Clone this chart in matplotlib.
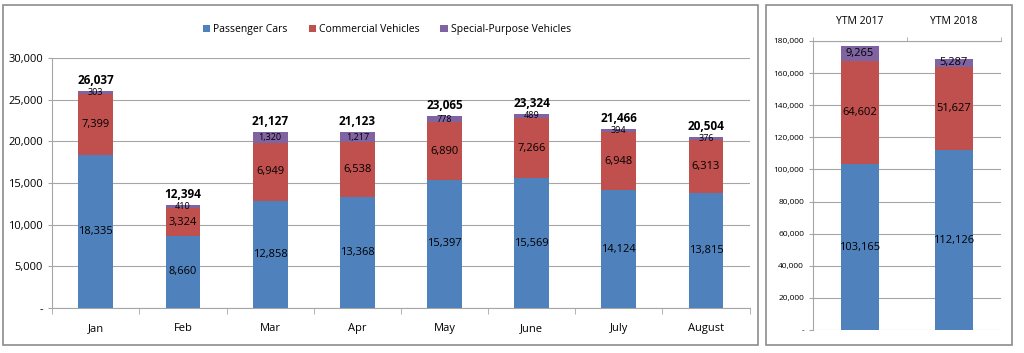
import matplotlib.pyplot as plt
from matplotlib.patches import Rectangle
from matplotlib.ticker import FuncFormatter
import numpy as np

months = ["Jan", "Feb", "Mar", "Apr", "May", "June", "July", "August"]
passenger = [18335, 8660, 12858, 13368, 15397, 15569, 14124, 13815]
commercial = [7399, 3324, 6949, 6538, 6890, 7266, 6948, 6313]
special = [303, 410, 1320, 1217, 778, 489, 394, 376]
totals = [26037, 12394, 21127, 21123, 23065, 23324, 21466, 20504]

ytm_labels = ["YTM 2017", "YTM 2018"]
ytm_passenger = [103165, 112126]
ytm_commercial = [64602, 51627]
ytm_special = [9265, 5287]

series_names = ["Passenger Cars", "Commercial Vehicles", "Special-Purpose Vehicles"]
colors = ["#4F81BD", "#C0504D", "#8064A2"]
grid_color = "#A6A6A6"

plt.rcParams['font.family'] = ['Open Sans', 'DejaVu Sans']


def fmt(v, pos=None):
    if v == 0:
        return "-"
    return f"{int(v):,}"


def draw_stack(ax, x, layers, width, fs, small_fs):
    bottom = np.zeros(len(x))
    for i, vals in enumerate(layers):
        vals = np.array(vals, dtype=float)
        ax.bar(x, vals, width, bottom=bottom, color=colors[i], label=series_names[i], zorder=3)
        for xi, b, v in zip(x, bottom, vals):
            size = fs if i < 2 else small_fs
            ax.text(xi, b + v / 2, f"{int(v):,}", ha="center", va="center",
                    fontsize=size, color="black", zorder=4)
        bottom += vals
    return bottom


def style_axis(ax):
    ax.yaxis.set_major_formatter(FuncFormatter(fmt))
    ax.grid(axis="y", color=grid_color, linewidth=0.8, zorder=0)
    for s in ["top", "right"]:
        ax.spines[s].set_visible(False)
    ax.spines["left"].set_color(grid_color)
    ax.spines["bottom"].set_color(grid_color)
    ax.tick_params(axis="y", length=3, color=grid_color)


fig = plt.figure(figsize=(10.24, 3.53), dpi=100)

# panel frames
fig.patches.append(Rectangle((0.003, 0.022), 0.737, 0.964, transform=fig.transFigure,
                             fill=False, edgecolor="#8C8C8C", linewidth=1.2))
fig.patches.append(Rectangle((0.748, 0.022), 0.240, 0.964, transform=fig.transFigure,
                             fill=False, edgecolor="#8C8C8C", linewidth=1.2))

# monthly chart
ax1 = fig.add_axes([0.051, 0.1275, 0.681, 0.708])
x = np.arange(len(months))
tops = draw_stack(ax1, x, [passenger, commercial, special], 0.4, 8, 6.5)
for xi, t, tot in zip(x, tops, totals):
    ax1.annotate(f"{tot:,}", (xi, t), xytext=(0, 3), textcoords="offset points",
                 ha="center", va="bottom", fontsize=8.5, fontweight="bold")
ax1.set_xlim(-0.5, len(months) - 0.5)
ax1.set_ylim(0, 30000)
ax1.set_yticks(np.arange(0, 30001, 5000))
ax1.set_xticks(x)
ax1.set_xticklabels(months, fontsize=8)
ax1.set_xticks(np.arange(-0.5, len(months)), minor=True)
ax1.tick_params(axis="x", which="major", length=0, pad=11)
ax1.tick_params(axis="x", which="minor", length=4, color=grid_color)
ax1.tick_params(axis="y", labelsize=8)
style_axis(ax1)
ax1.legend(loc="lower center", bbox_to_anchor=(0.48, 1.055), ncol=3, frameon=False,
           fontsize=7.5, handlelength=0.7, handleheight=0.7, handletextpad=0.3,
           columnspacing=2.0)

# YTM chart
ax2 = fig.add_axes([0.794, 0.065, 0.1835, 0.819])
x2 = np.arange(len(ytm_labels))
draw_stack(ax2, x2, [ytm_passenger, ytm_commercial, ytm_special], 0.4, 8, 8)
ax2.set_xlim(-0.5, len(ytm_labels) - 0.5)
ax2.set_ylim(0, 180000)
ax2.set_yticks(np.arange(0, 180001, 20000))
ax2.tick_params(axis="y", labelsize=6)
ax2.xaxis.tick_top()
ax2.set_xticks(x2)
ax2.set_xticklabels(ytm_labels, fontsize=7.5)
ax2.set_xticks(np.arange(-0.5, len(ytm_labels)), minor=True)
ax2.tick_params(axis="x", which="major", length=0, pad=10)
ax2.tick_params(axis="x", which="minor", length=3, color=grid_color, top=True, bottom=False)
style_axis(ax2)
ax2.spines["bottom"].set_visible(False)
ax2.spines["top"].set_visible(True)
ax2.spines["top"].set_color(grid_color)

fig.savefig("out.png", dpi=100)
